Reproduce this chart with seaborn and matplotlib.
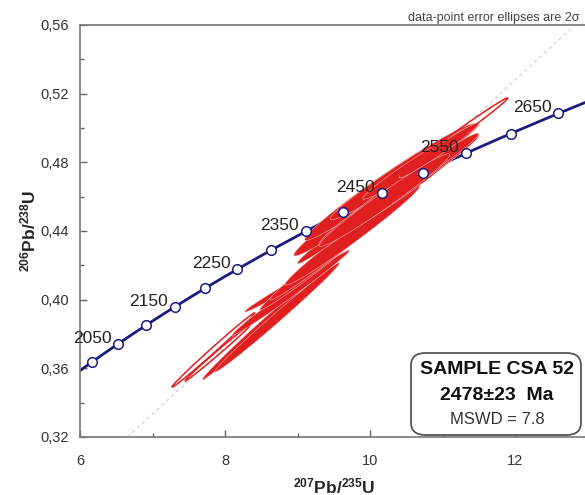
import numpy as np
import pandas as pd
import seaborn as sns
import matplotlib.pyplot as plt
from matplotlib.patches import FancyBboxPatch
from matplotlib.ticker import MultipleLocator, FuncFormatter

# decay constants (1/yr)
LAMBDA_238 = 1.55125e-10
LAMBDA_235 = 9.8485e-10

# concordia age marks (Ma) and which of them get a label
tick_ages = list(range(2000, 2701, 50))
label_ages = [2050, 2150, 2250, 2350, 2450, 2550, 2650]

# discordia intercepts (Ma)
intercept_ages = [550, 2478]

# data-point error ellipses: centre, 2 sigma half-extents, error correlation
ell_x = [7.84, 7.90, 8.36, 8.72, 8.86, 8.91, 9.24, 9.52, 9.76, 9.60,
         9.90, 10.10, 10.30, 10.45, 10.60, 10.70, 10.85, 10.95, 10.20, 11.16]
ell_y = [0.3707, 0.3690, 0.3794, 0.3897, 0.4074, 0.4041, 0.4187, 0.4290,
         0.4376, 0.4400, 0.4545, 0.4645, 0.4610, 0.4745, 0.4710, 0.4805,
         0.4780, 0.4870, 0.4580, 0.4950]
ell_ex = [0.57, 0.45, 0.675, 0.86, 0.59, 0.81, 0.76, 0.90, 0.93, 0.60,
          0.95, 1.00, 1.00, 1.00, 0.90, 0.80, 0.65, 0.55, 0.90, 0.74]
ell_ey = [0.0216, 0.0163, 0.0262, 0.0318, 0.0146, 0.0248, 0.0247, 0.0292,
          0.0291, 0.0190, 0.0290, 0.0300, 0.0290, 0.0280, 0.0250, 0.0220,
          0.0190, 0.0160, 0.0270, 0.0225]
ell_rho = [0.996, 0.996, 0.994, 0.994, 0.99, 0.993, 0.99, 0.99, 0.985, 0.985,
           0.98, 0.98, 0.98, 0.98, 0.98, 0.98, 0.98, 0.98, 0.98, 0.995]
ell_filled = [False, False] + [True] * 17 + [False]


def concordia(t_ma):
    t = np.asarray(t_ma, dtype=float) * 1e6
    return np.exp(LAMBDA_235 * t) - 1, np.exp(LAMBDA_238 * t) - 1


sns.set_style('ticks')
plt.rcParams['font.family'] = ['Liberation Sans', 'DejaVu Sans']
plt.rcParams['mathtext.fontset'] = 'custom'
plt.rcParams['mathtext.rm'] = 'Liberation Sans'
plt.rcParams['mathtext.bf'] = 'Liberation Sans:bold'

fig = plt.figure(figsize=(5.85, 4.95), dpi=100)
ax = fig.add_axes([80 / 585, 58 / 495, 507.5 / 585, 412 / 495])

# discordia reference line
dx, dy = concordia(intercept_ages)
line_x = np.linspace(0, 14, 50)
line_y = dy[0] + (dy[1] - dy[0]) / (dx[1] - dx[0]) * (line_x - dx[0])
ax.plot(line_x, line_y, color='#cccccc', lw=0.8, ls=(0, (3, 3)), zorder=1)

# concordia curve
ages = np.linspace(1900, 2800, 300)
cx, cy = concordia(ages)
curve = pd.DataFrame({'x': cx, 'y': cy})
sns.lineplot(data=curve, x='x', y='y', sort=False, color='#1c1c80', lw=2, ax=ax)
ax.lines[-1].set_zorder(2)

# error ellipses
t = np.linspace(0, 2 * np.pi, 240)
for x0, y0, ex, ey, r, filled in zip(ell_x, ell_y, ell_ex, ell_ey, ell_rho, ell_filled):
    xs = x0 + ex * np.cos(t)
    ys = y0 + ey * (r * np.cos(t) + np.sqrt(1 - r ** 2) * np.sin(t))
    if filled:
        ax.fill(xs, ys, facecolor='#e02020', edgecolor='#f4c0c0', lw=0.35, zorder=4)
    else:
        ax.fill(xs, ys, facecolor='none', edgecolor='#e02020', lw=1.1, zorder=4)

# age marks
mx, my = concordia(tick_ages)
marks = pd.DataFrame({'x': mx, 'y': my})
sns.scatterplot(data=marks, x='x', y='y', s=48, color='white',
                edgecolor='#1c1c80', linewidth=1.1, ax=ax, zorder=5)

lx, ly = concordia(label_ages)
for age, x0, y0 in zip(label_ages, lx, ly):
    ax.annotate(str(age), (x0, y0), xytext=(-5, 4), textcoords='offset points',
                ha='right', va='center', fontsize=12.5, color='#222222', zorder=6)

ax.set_xlim(6, 13)
ax.set_ylim(0.32, 0.56)
ax.xaxis.set_major_locator(MultipleLocator(2))
ax.xaxis.set_minor_locator(MultipleLocator(1))
ax.yaxis.set_major_locator(MultipleLocator(0.04))
ax.yaxis.set_minor_locator(MultipleLocator(0.02))
ax.yaxis.set_major_formatter(FuncFormatter(lambda v, p: f'{v:.2f}'.replace('.', ',')))
ax.tick_params(which='both', direction='in', color='#666666', labelcolor='#333333',
               labelsize=10.5)
ax.tick_params(which='major', length=5, width=1)
ax.tick_params(which='minor', length=3, width=1)
ax.tick_params(axis='x', pad=12)
ax.tick_params(axis='y', pad=8)
for side in ['left', 'top', 'bottom']:
    ax.spines[side].set_color('#777777')
    ax.spines[side].set_linewidth(1.2)
ax.spines['right'].set_visible(False)

ax.set_xlabel(r'$\mathbf{^{207}Pb/^{235}U}$', fontsize=12.5, labelpad=6)
ax.set_ylabel(r'$\mathbf{^{206}Pb/^{238}U}$', fontsize=12.5, labelpad=1)

ax.text(0.985, 1.002, 'data-point error ellipses are 2σ', transform=ax.transAxes,
        ha='right', va='bottom', fontsize=9, color='#444444')

# sample box
box = FancyBboxPatch((411 / 585, 60 / 495), 170 / 585, 82 / 495,
                     boxstyle='round,pad=0,rounding_size=0.025',
                     transform=fig.transFigure, facecolor='white',
                     edgecolor='#555555', lw=1.3, zorder=7)
fig.patches.append(box)
fig.text(497 / 585, 1 - 369 / 495, 'SAMPLE CSA 52', ha='center', va='center',
         fontsize=14, fontweight='bold', color='#111111', zorder=8)
fig.text(497 / 585, 1 - 395 / 495, '2478±23  Ma', ha='center', va='center',
         fontsize=14, fontweight='bold', color='#111111', zorder=8)
fig.text(497 / 585, 1 - 419 / 495, 'MSWD = 7.8', ha='center', va='center',
         fontsize=12, color='#333333', zorder=8)

fig.savefig('out.png', dpi=100)
